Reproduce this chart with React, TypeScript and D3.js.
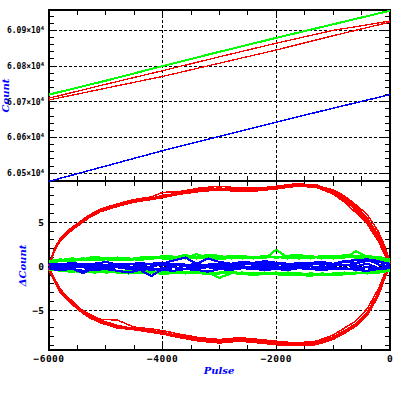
import React from 'react';
import * as d3 from 'd3';

// top panel: raw counts vs pulse
const TOP_X = [-6000, -5000, -4000, -3000, -2000, -1000, 0];
const TOP_GREEN = [60720, 60759, 60800, 60840, 60879, 60917, 60955];
const TOP_RED_A = [60710, 60749, 60787, 60826, 60864, 60900, 60926];
const TOP_RED_B = [60705, 60738, 60771, 60808, 60845, 60885, 60923];
const TOP_BLUE = [60477, 60520, 60563, 60603, 60643, 60682, 60720];

// bottom panel: red runs (upper / lower arcs)
const RED_X = [-6000, -5900, -5800, -5700, -5600, -5450, -5300, -5100, -4800, -4500, -4200, -4000, -3700,
  -3350, -3000, -2650, -2300, -2000, -1650, -1300, -1000, -800, -600, -400, -200, -100, 0];
const RED_UP_1 = [0.15, 2.0, 3.1, 3.7, 4.3, 5.0, 5.7, 6.4, 7.0, 7.4, 7.75, 8.0, 8.4, 8.75, 8.9, 8.7, 8.8, 9.0, 9.35, 9.3, 8.5, 7.7, 6.6, 5.3, 3.3, 1.9, 0.3];
const RED_UP_2 = [0.0, 1.8, 2.9, 3.5, 4.1, 4.8, 5.5, 6.2, 6.8, 7.3, 7.6, 7.8, 8.2, 8.5, 8.7, 8.5, 8.6, 8.8, 9.1, 9.0, 8.2, 7.3, 6.1, 4.8, 2.8, 1.4, 0.1];
const RED_UP_3 = [0.2, 2.1, 3.2, 3.9, 4.4, 5.1, 5.8, 6.5, 7.1, 7.6, 7.9, 8.4, 8.5, 8.9, 9.1, 8.9, 8.9, 9.1, 9.4, 9.2, 8.7, 8.0, 7.0, 5.9, 3.9, 2.4, 0.5];
const RED_UP_4 = [0.1, 1.9, 3.0, 3.6, 4.2, 4.9, 5.6, 6.3, 6.9, 7.5, 7.8, 7.9, 8.3, 8.6, 8.8, 8.6, 8.7, 8.9, 9.2, 9.1, 8.4, 7.5, 6.4, 5.1, 3.0, 1.6, 0.2];
const RED_UP_5 = [0.1, 2.0, 3.0, 3.8, 4.3, 5.0, 5.6, 6.4, 7.0, 7.5, 7.7, 8.1, 8.3, 8.7, 8.8, 8.8, 8.7, 9.0, 9.3, 9.2, 8.6, 7.9, 6.8, 5.5, 3.5, 2.1, 0.3];
const RED_LO_1 = [-0.3, -1.6, -2.8, -3.5, -4.1, -5.0, -5.6, -6.2, -6.8, -7.0, -7.3, -7.5, -7.9, -8.3, -8.5, -8.3, -8.5, -8.7, -8.85, -8.7, -8.0, -7.3, -6.5, -5.2, -2.9, -1.2, 0.2];
const RED_LO_2 = [-0.2, -1.4, -2.6, -3.3, -3.9, -4.8, -5.4, -6.0, -6.1, -6.9, -7.1, -7.3, -7.7, -8.1, -8.3, -8.1, -8.3, -8.5, -8.7, -8.5, -7.8, -7.0, -6.2, -4.8, -2.5, -0.9, 0.3];
const RED_LO_3 = [-0.4, -1.8, -3.0, -3.7, -4.3, -5.1, -5.8, -6.4, -7.0, -7.2, -7.5, -7.7, -8.1, -8.5, -8.7, -8.5, -8.7, -8.9, -9.0, -8.9, -8.3, -7.6, -6.8, -5.6, -3.3, -1.5, 0.0];
const RED_LO_4 = [-0.3, -1.5, -2.7, -3.4, -4.0, -4.9, -5.5, -6.1, -6.7, -7.1, -7.2, -7.6, -7.8, -8.2, -8.4, -8.2, -8.4, -8.6, -8.8, -8.6, -8.1, -7.4, -6.6, -5.4, -3.1, -1.3, 0.1];
const RED_LO_5 = [-0.3, -1.7, -2.9, -3.6, -4.2, -5.0, -5.7, -6.3, -6.9, -7.1, -7.4, -7.6, -8.0, -8.4, -8.6, -8.4, -8.6, -8.8, -8.9, -8.8, -8.2, -7.5, -6.7, -5.5, -3.2, -1.4, 0.1];

// bottom panel: green and blue runs (noisy bands near zero)
const NOISE_X = [-6000, -5800, -5600, -5400, -5200, -5000, -4800, -4600, -4400, -4200, -4000, -3800, -3600, -3400, -3200,
  -3000, -2800, -2600, -2400, -2200, -2000, -1800, -1600, -1400, -1200, -1000, -800, -600, -400, -200, 0];
const GREEN_UP_1 = [0.5, 0.7, 0.8, 0.9, 0.8, 1.0, 0.9, 0.8, 1.0, 1.1, 0.9, 1.0, 1.3, 1.0, 1.1, 1.0, 1.2, 1.1, 1.0, 1.1, 1.0, 1.2, 1.3, 1.1, 1.0, 1.2, 1.1, 1.0, 0.9, 0.8, 0.5];
const GREEN_UP_2 = [0.4, 0.6, 0.7, 0.7, 0.9, 0.8, 0.7, 0.9, 0.8, 0.9, 1.0, 0.8, 1.0, 1.4, 0.9, 0.8, 1.0, 0.9, 1.1, 0.9, 1.9, 1.0, 0.9, 1.0, 1.1, 0.9, 1.0, 1.7, 1.1, 0.9, 0.6];
const GREEN_UP_3 = [0.6, 0.8, 0.6, 0.8, 1.1, 0.9, 0.8, 0.7, 0.9, 0.8, 1.2, 1.1, 0.9, 1.1, 1.3, 1.2, 0.9, 1.0, 0.9, 1.0, 1.1, 0.9, 1.1, 1.2, 0.9, 1.0, 1.3, 1.2, 1.0, 1.1, 0.7];
const GREEN_UP_4 = [0.5, 0.7, 0.9, 0.8, 0.7, 0.8, 1.0, 0.9, 0.7, 1.0, 0.9, 0.9, 1.1, 0.9, 1.0, 1.1, 1.1, 1.2, 1.0, 1.2, 1.0, 1.1, 1.0, 0.9, 1.2, 1.1, 1.2, 1.1, 1.2, 1.0, 0.8];
const GREEN_LO_1 = [-0.3, -0.5, -0.6, -0.5, -0.7, -0.6, -0.5, -0.6, -0.7, -0.6, -0.9, -0.7, -0.6, -0.8, -0.7, -1.3, -0.8, -0.7, -0.8, -0.9, -0.8, -0.7, -0.8, -0.9, -1.0, -0.8, -0.7, -0.8, -0.6, -0.5, -0.4];
const GREEN_LO_2 = [-0.4, -0.4, -0.5, -0.7, -0.6, -0.5, -0.7, -0.8, -0.6, -0.5, -0.7, -0.6, -0.8, -0.7, -0.9, -0.8, -0.7, -0.9, -0.8, -0.7, -0.9, -1.0, -0.9, -1.1, -0.8, -0.9, -0.8, -0.7, -0.8, -0.7, -0.5];
const GREEN_LO_3 = [-0.2, -0.5, -0.4, -0.6, -0.5, -0.7, -0.6, -0.5, -0.8, -0.7, -0.6, -0.8, -0.7, -0.6, -0.8, -0.7, -0.6, -0.8, -1.0, -0.8, -0.7, -0.8, -1.0, -0.8, -0.9, -1.0, -0.9, -0.8, -0.7, -0.6, -0.3];
const BLUE_1 = [0.2, 0.3, 0.1, 0.3, 0.2, 0.1, 0.3, 0.2, 0.4, 0.2, 0.1, 0.3, 0.2, 0.0, 0.2, 0.3, 0.1, 0.2, 0.3, 0.4, 0.3, 0.2, 0.4, 0.3, 0.2, 0.3, 0.5, 0.4, 0.6, 0.5, 0.3];
const BLUE_2 = [-0.1, -0.2, 0.0, -0.1, -0.3, -0.2, -0.1, -0.3, -0.2, -0.4, -0.2, -0.1, -0.3, -0.2, -0.1, -0.3, -0.2, -0.1, 0.0, -0.2, -0.1, -0.2, -0.1, 0.0, -0.2, -0.1, -0.3, -0.2, -0.1, -0.3, -0.1];
const BLUE_3 = [0.1, 0.0, 0.2, 0.1, 0.0, -0.1, 0.1, 0.0, -0.4, -1.1, -0.3, 0.2, 0.0, -0.2, 0.1, 0.2, 0.0, 0.3, 0.2, 0.1, 0.3, 0.1, 0.0, 0.2, 0.4, 0.2, 0.1, 0.3, 0.8, 0.2, 0.0];
const BLUE_4 = [0.0, 0.1, -0.2, -0.8, -0.1, 0.2, 0.0, -0.2, 0.0, -0.1, 0.3, 0.7, 1.0, 0.3, 0.0, -0.1, 0.1, 0.0, -0.1, 0.1, 0.0, -0.1, 0.2, 0.0, -0.1, 0.1, 0.2, 0.0, 0.3, -0.2, 0.0];
const BLUE_5 = [0.3, 0.2, 0.4, 0.2, 0.3, 0.5, 0.2, 0.3, 0.1, 0.3, 0.4, 0.2, 0.1, 0.3, 0.9, 0.5, 0.3, 0.5, 0.4, 0.6, 0.4, 0.3, 0.2, 0.4, 0.5, 0.3, 0.6, 0.7, 0.8, 0.6, 0.2];
const BLUE_6 = [-0.3, -0.4, -0.3, -0.5, -0.4, -0.3, -0.5, -0.7, -0.4, -0.3, -0.4, -0.5, -0.3, -0.4, -0.6, -0.3, -0.4, -0.2, -0.3, -0.4, -0.3, -0.4, -0.2, -0.3, -0.4, -0.3, -0.2, -0.4, -0.5, -0.3, -0.2];

const X_MAJOR = [-6000, -4000, -2000, 0];
const TOP_MAJOR = [60500, 60600, 60700, 60800, 60900];
const BOT_MAJOR = [-5, 0, 5];

const LEFT = 49, RIGHT = 390, TOP = 10, MID = 181, BOTTOM = 350;
const x = d3.scaleLinear().domain([-6000, 0]).range([LEFT, RIGHT]);
const yTop = d3.scaleLinear().domain([60478, 60957]).range([MID, TOP]);
const yBot = d3.scaleLinear().domain([-9.5, 9.7]).range([BOTTOM, MID]);

const BLUE = '#0000ff', RED = '#ff0000', GREEN = '#00ff00';
const MONO = '"DejaVu Sans Mono", monospace';

function lineFor(xs: number[], ys: number[], y: d3.ScaleLinear<number, number>) {
  const gen = d3.line<number>().x((_, i) => x(xs[i])).y(d => y(d));
  return gen(ys) || '';
}

function Frame({ y, top, bottom, major, minorStep }: {
  y: d3.ScaleLinear<number, number>; top: number; bottom: number; major: number[]; minorStep: number;
}) {
  const [d0, d1] = y.domain();
  const yMinor = d3.range(Math.ceil(d0 / minorStep) * minorStep, d1, minorStep);
  const xMinor = d3.range(-6000, 1, 500);
  return (
    <g stroke="#000" shapeRendering="crispEdges">
      {X_MAJOR.slice(1, -1).map(v => (
        <line key={'gx' + v} x1={x(v)} x2={x(v)} y1={top} y2={bottom} strokeDasharray="3,2" />
      ))}
      {major.map(v => (
        <line key={'gy' + v} x1={LEFT} x2={RIGHT} y1={y(v)} y2={y(v)} strokeDasharray="3,2" />
      ))}
      {xMinor.map(v => {
        const len = v % 2000 === 0 ? 8 : 5;
        return (
          <g key={'tx' + v}>
            <line x1={x(v)} x2={x(v)} y1={bottom} y2={bottom - len} />
            <line x1={x(v)} x2={x(v)} y1={top} y2={top + len} />
          </g>
        );
      })}
      {yMinor.map(v => {
        const len = major.some(m => Math.abs(m - v) < 1e-6) ? 8 : 5;
        return (
          <g key={'ty' + v}>
            <line x1={LEFT} x2={LEFT + len} y1={y(v)} y2={y(v)} />
            <line x1={RIGHT} x2={RIGHT - len} y1={y(v)} y2={y(v)} />
          </g>
        );
      })}
      <rect x={LEFT} y={top} width={RIGHT - LEFT} height={bottom - top} fill="none" strokeWidth={1.5} />
    </g>
  );
}

export default function App() {
  const topLines = [
    { ys: TOP_BLUE, c: BLUE, w: 1.5 },
    { ys: TOP_RED_B, c: RED, w: 1.3 },
    { ys: TOP_RED_A, c: RED, w: 1.3 },
    { ys: TOP_GREEN, c: GREEN, w: 2 },
  ];
  const redRuns = [RED_UP_1, RED_UP_2, RED_UP_3, RED_UP_4, RED_UP_5, RED_LO_1, RED_LO_2, RED_LO_3, RED_LO_4, RED_LO_5];
  const greenRuns = [GREEN_UP_1, GREEN_UP_2, GREEN_UP_3, GREEN_UP_4, GREEN_LO_1, GREEN_LO_2, GREEN_LO_3];
  const blueRuns = [BLUE_1, BLUE_2, BLUE_3, BLUE_4, BLUE_5, BLUE_6];

  return (
    <svg width={399} height={399} style={{ position: 'absolute', left: 0, top: 0, background: '#fff' }}>
      <rect width={399} height={399} fill="#fff" />
      <Frame y={yTop} top={TOP} bottom={MID} major={TOP_MAJOR} minorStep={20} />
      <Frame y={yBot} top={MID} bottom={BOTTOM} major={BOT_MAJOR} minorStep={1} />

      <g fill="none" strokeLinejoin="round" shapeRendering="crispEdges">
        {topLines.map((l, i) => (
          <path key={'t' + i} d={lineFor(TOP_X, l.ys, yTop)} stroke={l.c} strokeWidth={l.w} />
        ))}
        {redRuns.map((ys, i) => (
          <path key={'r' + i} d={lineFor(RED_X, ys, yBot)} stroke={RED} strokeWidth={1.5} />
        ))}
        {greenRuns.map((ys, i) => (
          <path key={'g' + i} d={lineFor(NOISE_X, ys, yBot)} stroke={GREEN} strokeWidth={2.2} />
        ))}
        {blueRuns.map((ys, i) => (
          <path key={'b' + i} d={lineFor(NOISE_X, ys, yBot)} stroke={BLUE} strokeWidth={2.2} />
        ))}
      </g>

      <g fontFamily={MONO} fontWeight="bold" fill="#000">
        {TOP_MAJOR.map(v => (
          <text key={'ly' + v} x={44} y={yTop(v) + 3} fontSize={8} textAnchor="end">
            {(v / 1e4).toFixed(2)}×10<tspan fontSize={5.5} dy={-3.5}>4</tspan>
          </text>
        ))}
        {BOT_MAJOR.map(v => (
          <text key={'lb' + v} x={44} y={yBot(v) + 3.5} fontSize={9.5} textAnchor="end">
            {v < 0 ? '\u2212' + Math.abs(v) : String(v)}
          </text>
        ))}
        {X_MAJOR.map(v => (
          <text key={'lx' + v} x={x(v)} y={362} fontSize={9.5} letterSpacing={0.5} textAnchor="middle">
            {v < 0 ? '\u2212' + Math.abs(v) : String(v)}
          </text>
        ))}
      </g>

      <g fill={BLUE} fontFamily='"DejaVu Serif", serif' fontStyle="italic" fontWeight="bold" fontSize={10}>
        <text x={219} y={374} textAnchor="middle">Pulse</text>
        <text transform={`translate(9,${(TOP + MID) / 2}) rotate(-90)`} textAnchor="middle">Count</text>
        <text transform={`translate(26,${(MID + BOTTOM) / 2}) rotate(-90)`} textAnchor="middle">ΔCount</text>
      </g>
    </svg>
  );
}
